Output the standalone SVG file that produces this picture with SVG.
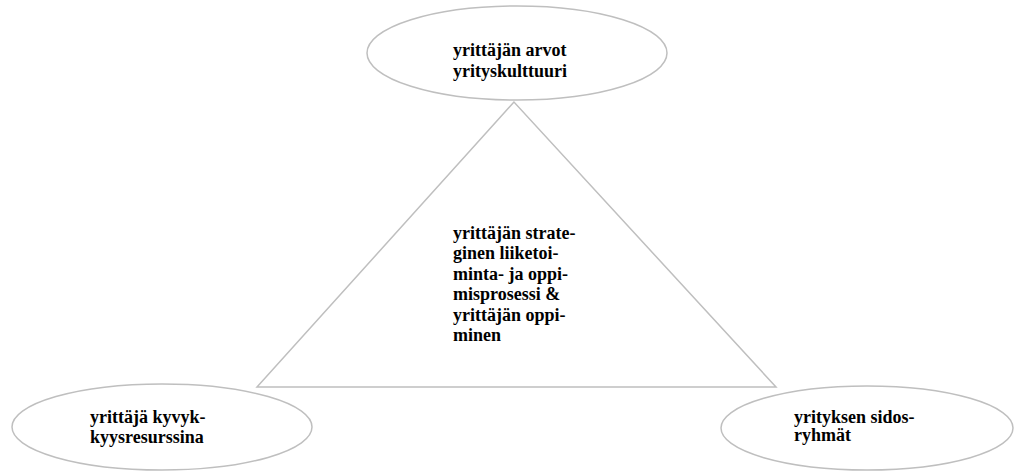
<svg xmlns="http://www.w3.org/2000/svg" width="1014" height="472" viewBox="0 0 1014 472">
<style>
.sh{fill:#ffffff;stroke:#bfbfbf;stroke-width:1.5}
.ln{fill:none;stroke:#bfbfbf;stroke-width:1.5}
.t{font-family:"Liberation Serif","Times New Roman","DejaVu Serif",serif;font-weight:bold;font-size:18px;fill:#000}
</style>
<rect width="1014" height="472" fill="#ffffff"/>
<g id="connectors">
<polygon class="ln" points="514,102 257,387 776,387"/>
</g>
<g id="node-top">
<ellipse class="sh" cx="517" cy="53" rx="150" ry="47"/>
<text class="t" x="453" y="56">yrittäjän arvot</text>
<text class="t" x="453" y="76.5">yrityskulttuuri</text>
</g>
<g id="node-center">
<text class="t" x="453" y="238.5">yrittäjän strate-</text>
<text class="t" x="453" y="259">ginen liiketoi-</text>
<text class="t" x="453" y="279.5">minta- ja oppi-</text>
<text class="t" x="453" y="300">misprosessi &amp;</text>
<text class="t" x="453" y="320.5">yrittäjän oppi-</text>
<text class="t" x="453" y="341">minen</text>
</g>
<g id="node-left">
<ellipse class="sh" cx="162" cy="427" rx="150" ry="43"/>
<text class="t" x="90" y="423">yrittäjä kyvyk-</text>
<text class="t" x="90" y="443">kyysresurssina</text>
</g>
<g id="node-right">
<ellipse class="sh" cx="867" cy="428" rx="146" ry="42"/>
<text class="t" x="794" y="423">yrityksen sidos-</text>
<text class="t" x="794" y="441">ryhmät</text>
</g>
</svg>
